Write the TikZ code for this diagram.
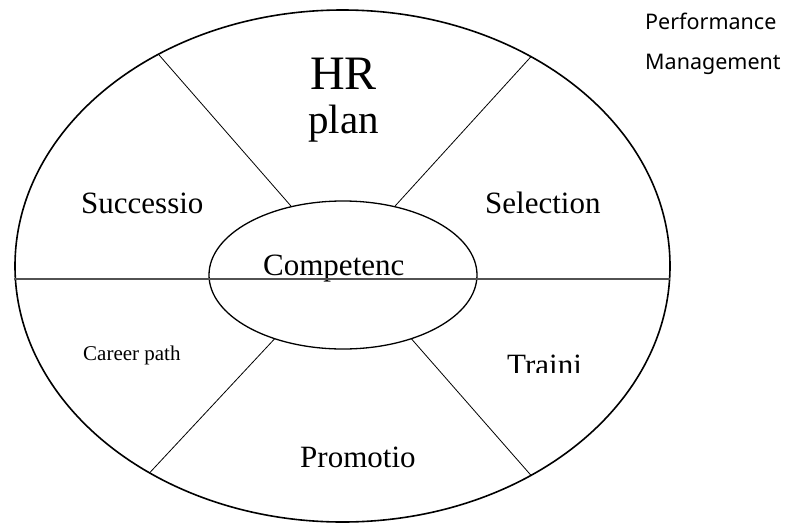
\documentclass[tikz,border=0pt]{standalone}
\usepackage{fontspec}
\setmainfont{Liberation Serif}
\newfontfamily\notefont{Noto Sans}
\usetikzlibrary{shapes.geometric}

\tikzset{
	sector/.style={inner sep=0pt, anchor=base west, font=\fontsize{31}{36}\selectfont},
	spoke/.style={line width=0.8pt, black},
	rim/.style={ellipse, draw, inner sep=0pt, outer sep=0pt},
}

\begin{document}
\begin{tikzpicture}[x=1pt, y=-1pt]
		\useasboundingbox (0,0) rectangle (794,522);
		% outer ring and inner core
		\node[rim, line width=1.6pt, minimum width=655pt, minimum height=512pt] (ring) at (342.5,266) {};
		\node[rim, line width=1.3pt, minimum width=268pt, minimum height=148pt] (core) at (343,275) {};
		% spokes between core and ring
		\draw[spoke] (core.127) -- (ring.131.5);
		\draw[spoke] (core.53) -- (ring.48.3);
		\draw[spoke] (core.223) -- (ring.227.9);
		\draw[spoke] (core.317) -- (ring.312.6);
		% sector labels
		\node[sector, font=\fontsize{48}{52}\selectfont] (hr) at (310,89) {HR};
		\node[sector, font=\fontsize{41}{46}\selectfont] (plan) at (308,133) {plan};
		\node[sector] (succ) at (81,213) {Successio};
		\node[sector] (sel) at (485,213) {Selection};
		\node[sector] (comp) at (263,275) {Competenc};
		\node[sector, font=\fontsize{21}{25}\selectfont] (career) at (83,360) {Career path};
		\begin{scope}
			\clip (490,340) rectangle (620,372);
			\node[sector] (train) at (507,375) {Traini};
		\end{scope}
		\node[sector] (promo) at (300,467) {Promotio};
		% horizontal divider
		\coordinate (axisL) at (14,279);
		\coordinate (axisR) at (670,279);
		\draw[line width=1.8pt, black!68] (axisL) -- (axisR);
		% side note
		\node[sector, font=\notefont\fontsize{21.5}{26}\selectfont] (perf) at (645,29) {Performance};
		\node[sector, font=\notefont\fontsize{21.5}{26}\selectfont] (mgmt) at (645,69) {Management};
	\end{tikzpicture}
\end{document}
